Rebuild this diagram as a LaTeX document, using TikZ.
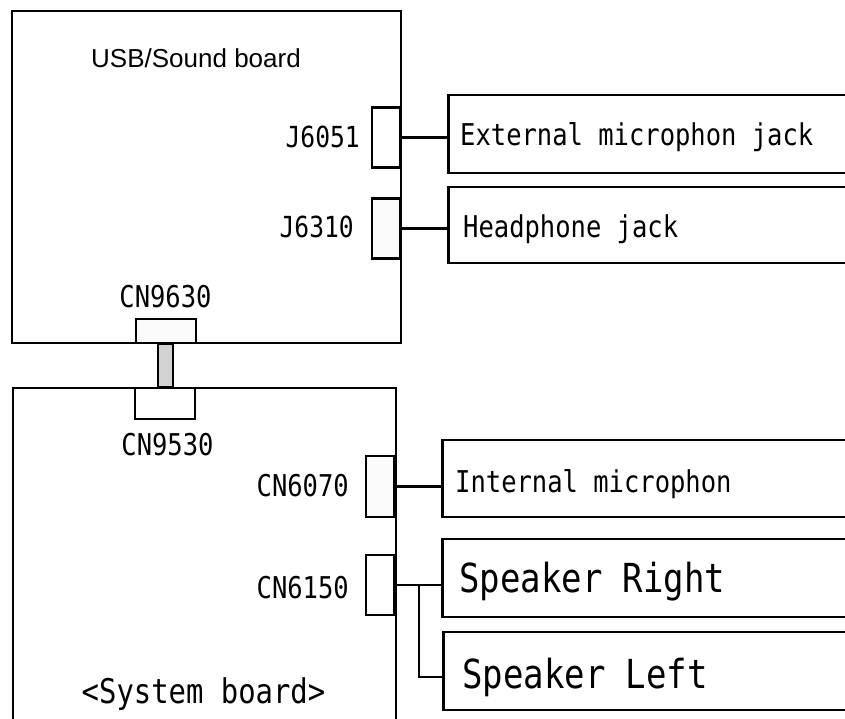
\documentclass[tikz,border=0pt]{standalone}
\usepackage{fontspec}
\setmainfont{Liberation Sans}
\newfontfamily\pinfont[FakeStretch=0.85]{DejaVu Sans Mono}
\usetikzlibrary{positioning}

\begin{document}
\begin{tikzpicture}[x=1pt, y=1pt,
  board/.style={draw, line width=2.3pt, inner sep=0},
  pin/.style={draw, line width=2.5pt, fill=white, inner sep=0, minimum width=28pt, minimum height=60pt},
  jack/.style={draw, line width=2.7pt, inner sep=0, minimum width=430pt, minimum height=78pt, anchor=west},
  wire/.style={line width=2.1pt},
  txt/.style={inner sep=0, font=\pinfont\fontsize{#1}{#1}\selectfont}]
  \useasboundingbox (0,0) rectangle (845,-719);
  \clip (0,0) rectangle (845,-719);

  % the two boards
  \node[board, minimum width=389pt, minimum height=332pt] (usb) at (206.5,-177) {};
  \node[board, minimum width=383pt, minimum height=350pt] (sys) at (204.5,-563) {};
  \node[inner sep=0, font=\fontsize{26pt}{26pt}\selectfont, anchor=base] (usbtxt) at (196,-68) {USB/Sound board};
  \node[txt=34pt, anchor=base] (systxt) at (203.5,-703) {<System board>};

  % connectors on the boards
  \node[pin] (j6051) at (386,-137.5) {};
  \node[pin, fill=gray!4] (j6310) at (386,-228.5) {};
  \node[pin, fill=gray!4, minimum width=60pt, minimum height=24pt] (cn9630) at (166,-331) {};
  \node[pin, minimum width=60pt, minimum height=31pt] (cn9530) at (165,-403.5) {};
  \node[pin, fill=gray!4, minimum height=61pt] (cn6070) at (380,-486.5) {};
  \node[pin] (cn6150) at (380,-585) {};

  \node[txt=29pt, anchor=base east] (j6051txt) at (360,-148) {J6051};
  \node[txt=29pt, anchor=base east] (j6310txt) at (354,-237) {J6310};
  \node[txt=30pt, anchor=base] (cn9630txt) at (165.5,-307) {CN9630};
  \node[txt=30pt, anchor=base] (cn9530txt) at (167.5,-455) {CN9530};
  \node[txt=30pt, anchor=base east] (cn6070txt) at (349,-496) {CN6070};
  \node[txt=30pt, anchor=base east] (cn6150txt) at (349,-598) {CN6150};

  % cable between the boards
  \draw[line width=2.3pt, fill=gray!35] ([xshift=-8pt]cn9630.south) rectangle ([xshift=8pt]cn9530.north);

  % parts
  \node[jack] (extmic) at (447,-134) {};
  \node[jack, minimum height=76pt] (headph) at (447,-225) {};
  \node[jack, minimum height=77pt] (intmic) at (441,-478.5) {};
  \node[jack] (spkr) at (441,-578) {};
  \node[jack] (spkl) at (442,-671) {};

  \node[txt=30pt, anchor=base west] (extmictxt) at (460,-146) {External microphon jack};
  \node[txt=30pt, anchor=base west] (headphtxt) at (463,-237) {Headphone jack};
  \node[txt=30pt, anchor=base west] (intmictxt) at (455,-492) {Internal microphon};
  \node[txt=40pt, anchor=base west] (spkrtxt) at (459,-592) {Speaker Right};
  \node[txt=40pt, anchor=base west] (spkltxt) at (462,-688) {Speaker Left};

  \draw[wire] (j6051.east) -- (j6051.east -| extmic.west);
  \draw[wire] (j6310.east) -- (j6310.east -| headph.west);
  \draw[wire] (cn6070.east) -- (cn6070.east -| intmic.west);
  \draw[wire] (cn6150.east) -- (cn6150.east -| spkr.west);
  \coordinate[right=24pt of cn6150.east] (spkbr);
  \draw[wire] (spkbr) |- ([yshift=-6pt]spkl.west);
\end{tikzpicture}
\end{document}
